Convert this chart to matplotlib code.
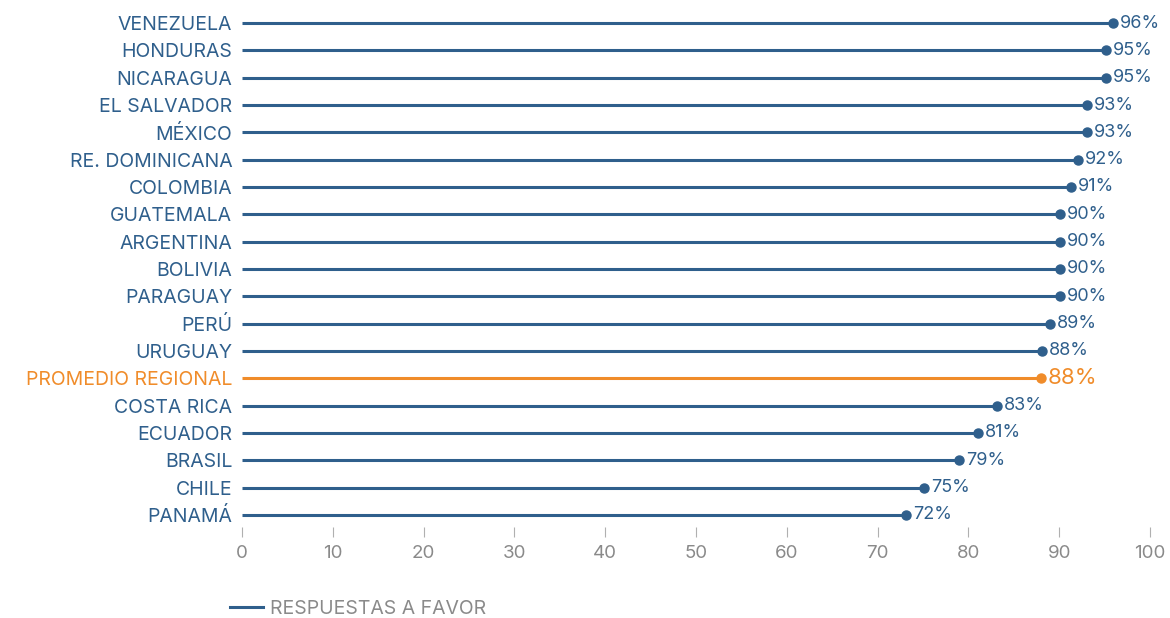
import matplotlib.pyplot as plt
from matplotlib.lines import Line2D

paises = ["VENEZUELA", "HONDURAS", "NICARAGUA", "EL SALVADOR", "MÉXICO",
          "RE. DOMINICANA", "COLOMBIA", "GUATEMALA", "ARGENTINA", "BOLIVIA",
          "PARAGUAY", "PERÚ", "URUGUAY", "PROMEDIO REGIONAL", "COSTA RICA",
          "ECUADOR", "BRASIL", "CHILE", "PANAMÁ"]
valores = [95.9, 95.1, 95.1, 93.1, 93.1, 92.1, 91.3, 90.1, 90.1, 90.1,
           90.1, 89.0, 88.1, 88.0, 83.1, 81.1, 79.0, 75.1, 73.1]
etiquetas = ["96%", "95%", "95%", "93%", "93%", "92%", "91%", "90%", "90%", "90%",
             "90%", "89%", "88%", "88%", "83%", "81%", "79%", "75%", "72%"]
promedio = "PROMEDIO REGIONAL"
xticks = list(range(0, 101, 10))

azul = "#2f5f8c"
naranja = "#f08c2a"
gris = "#8a8a8a"

plt.rcParams['font.family'] = ['Inter', 'DejaVu Sans']

W, H = 1170, 618
fig = plt.figure(figsize=(W / 100, H / 100), dpi=100)
ax = fig.add_axes([242 / W, 1 - 527 / H, (1150 - 242) / W, (527 - 10) / H])

for i, (p, v, t) in enumerate(zip(paises, valores, etiquetas)):
    c = naranja if p == promedio else azul
    ax.plot([0, v], [i, i], color=c, lw=2.2, solid_capstyle='butt')
    ax.plot(v, i, 'o', color=c, ms=6.5)
    fs = 16 if p == promedio else 13
    ax.annotate(t, (v, i), xytext=(5, 0), textcoords='offset points',
                va='center', ha='left', color=c, fontsize=fs)

ax.set_xlim(0, 100)
ax.set_ylim(18.44, -0.476)
ax.set_xticks(xticks)
ax.set_xticklabels([str(x) for x in xticks])
ax.set_yticks(range(len(paises)))
ax.set_yticklabels(paises)
for lbl, p in zip(ax.get_yticklabels(), paises):
    lbl.set_color(naranja if p == promedio else azul)
ax.tick_params(axis='y', length=0, pad=7, labelsize=14)
ax.tick_params(axis='x', length=7, width=0.8, color="#b0b0b0", pad=6,
               labelsize=13.5, labelcolor=gris)
for s in ax.spines.values():
    s.set_visible(False)

h = Line2D([], [], color=azul, lw=2.2)
fig.legend([h], ["RESPUESTAS A FAVOR"], loc='center left',
           bbox_to_anchor=(230 / W, 1 - 609 / H), frameon=False,
           borderpad=0, borderaxespad=0,
           handlelength=1.7, handletextpad=0.35, fontsize=14, labelcolor=gris)

fig.savefig("out.png", dpi=100)
